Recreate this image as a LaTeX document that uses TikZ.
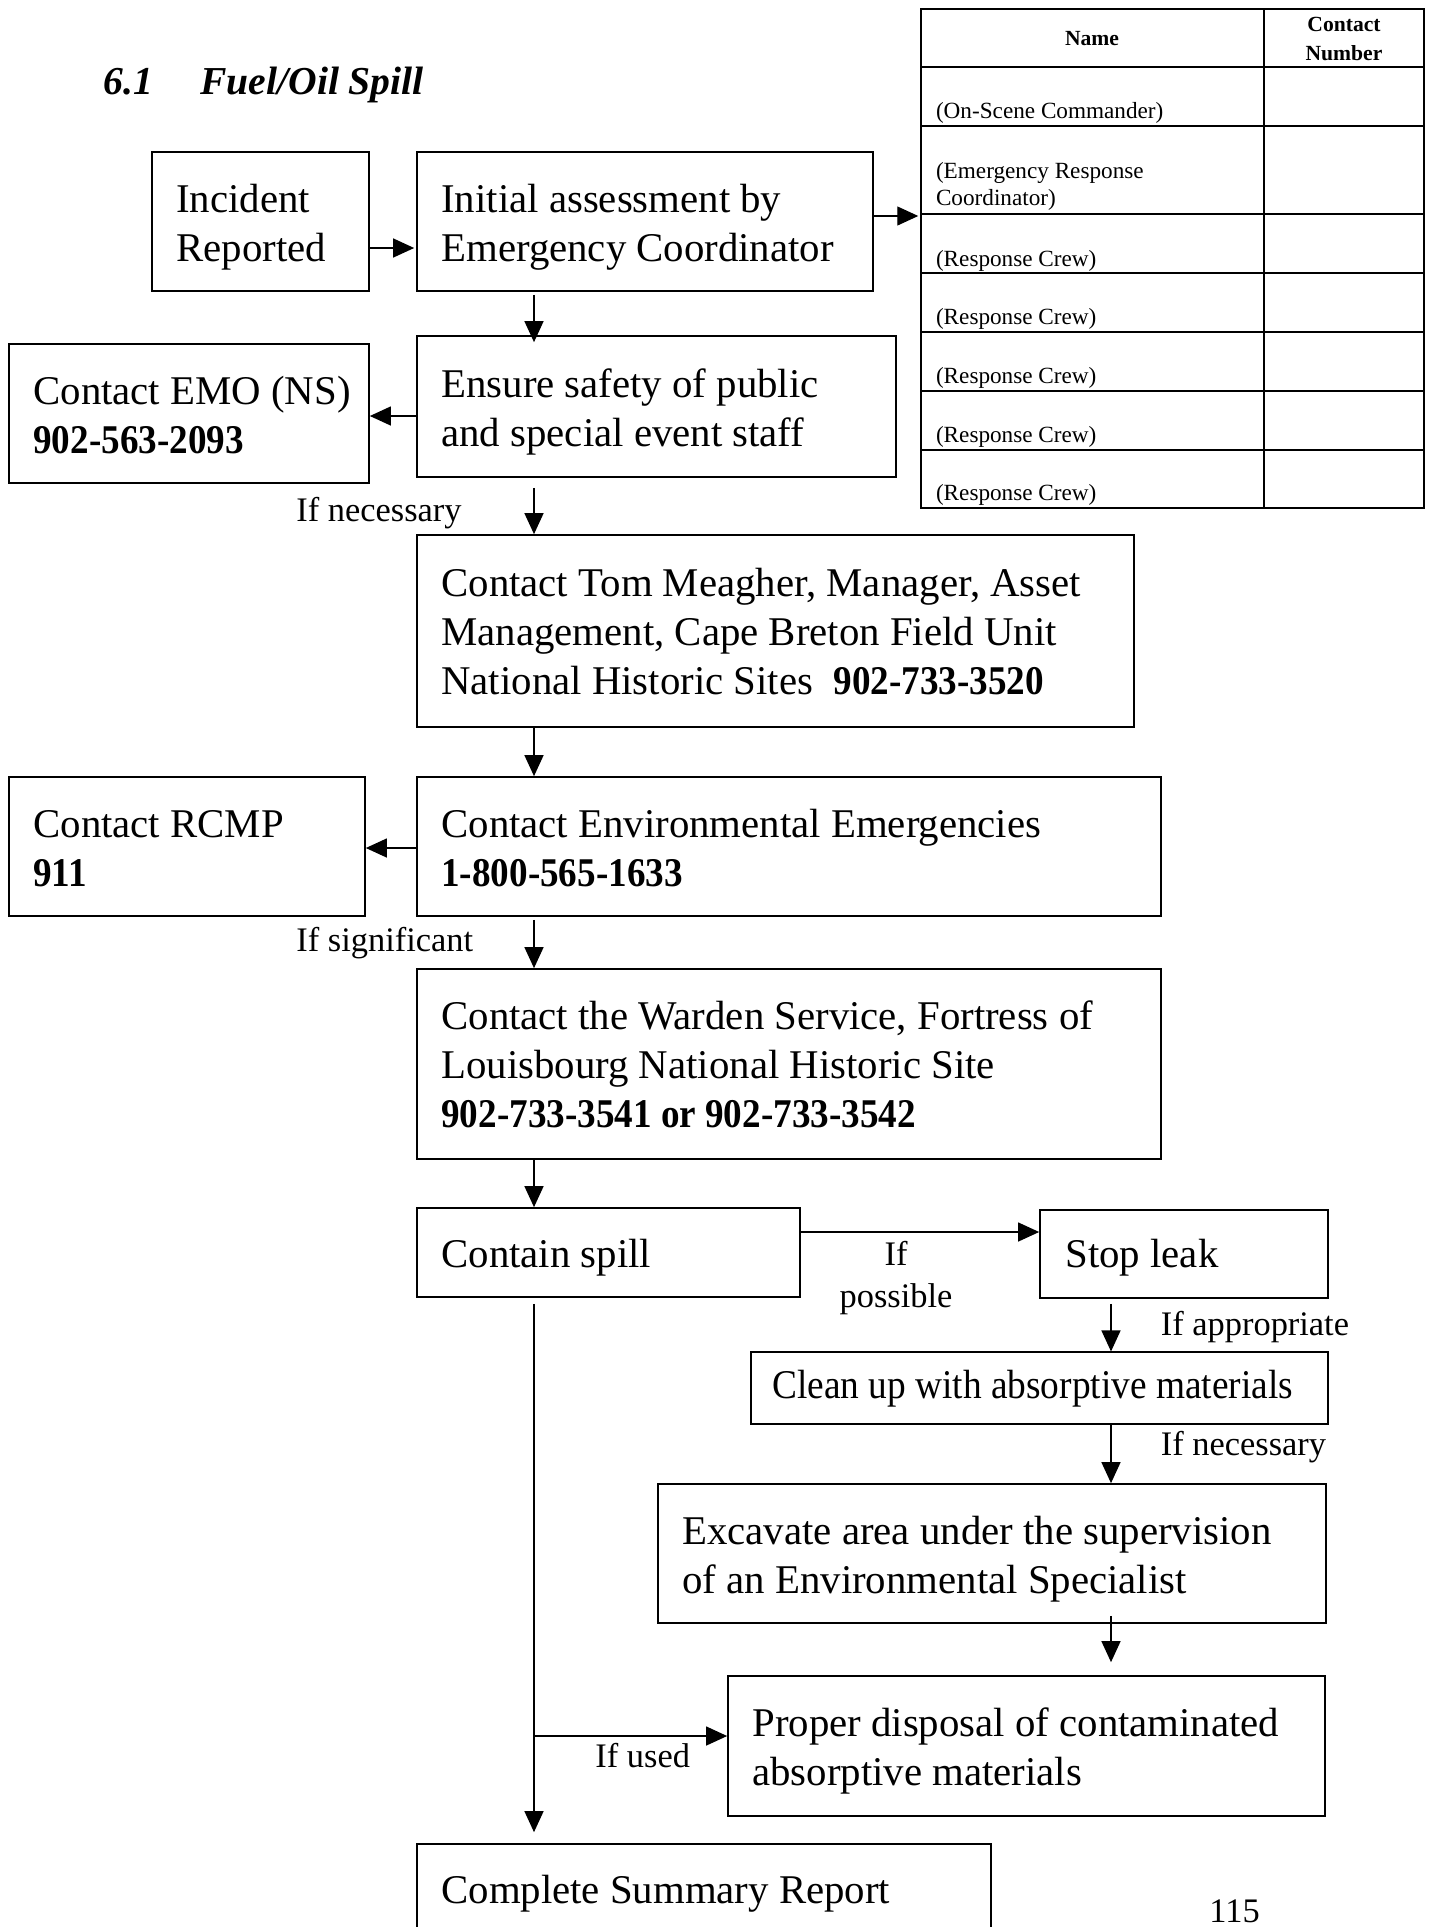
\documentclass[tikz,border=0pt]{standalone}
\usepackage{fontspec}
\usepackage{graphicx}
\setmainfont{Liberation Serif}
\usetikzlibrary{arrows.meta,fit}
\newcommand\ml[1]{\begin{tabular}[t]{@{}l@{}}#1\end{tabular}}
\newcommand\bnum[1]{\scalebox{0.91}[1]{\textbf{#1}}}
\tikzset{
  box/.style={draw, line width=0.85pt, inner sep=0pt, rectangle},
  thinbox/.style={draw, line width=0.55pt, inner sep=0pt, rectangle},
  arr/.style={line width=0.65pt, -{Triangle[length=10.5pt,width=9.5pt]}},
  txt/.style={anchor=base west, inner sep=0pt, font=\fontsize{20.4}{24.6}\selectfont},
  lbl/.style={anchor=base west, inner sep=0pt, font=\fontsize{17.2}{20}\selectfont},
  tab/.style={anchor=base west, inner sep=0pt, font=\fontsize{11.6}{13.6}\selectfont},
  tabh/.style={anchor=base, inner sep=0pt, font=\fontsize{10.8}{13}\selectfont\bfseries},
  ttl/.style={anchor=base west, inner sep=0pt, font=\fontsize{19.8}{23}\selectfont\bfseries\itshape},
}
\begin{document}
\begin{tikzpicture}[x=0.5pt, y=-0.5pt]
\path[use as bounding box, clip] (0,0) rectangle (1431,1927);
\fill[white] (0,0) rectangle (1431,1927);

% title
\node[ttl] (tnum) at (103,94) {6.1};
\node[ttl] (tname) at (200,94) {Fuel/Oil Spill};

% helper coordinates
\coordinate (colx) at (534,0);
\coordinate (colr) at (1111,0);
\coordinate (y248) at (0,248);
\coordinate (y216) at (0,216);
\coordinate (y416) at (0,416);
\coordinate (y848) at (0,848);
\coordinate (y1232) at (0,1232);
\coordinate (br) at (534,1736);

% table
\node[draw, line width=0.75pt, inner sep=0pt, fit={(921,9)(1424,508)}] (tbl) {};
\foreach \yy in {67,126,214,273,332,391,450}
  \draw[line width=0.75pt] (921,\yy) -- (1424,\yy);
\draw[line width=0.75pt] (1264,9) -- (1264,508);
\node[tabh] (hname) at (1092,46) {Name};
\node[tabh] (hcont) at (1344,32) {Contact};
\node[tabh] (hnum) at (1344,60) {Number};
\node[tab] (r1) at (935.6,118) {(On-Scene Commander)};
\node[tab] (r2) at (935.6,178) {\ml{(Emergency Response\\Coordinator)}};
\node[tab] (r3) at (935.6,266) {(Response Crew)};
\node[tab] (r4) at (935.6,324) {(Response Crew)};
\node[tab] (r5) at (935.6,383) {(Response Crew)};
\node[tab] (r6) at (935.6,442) {(Response Crew)};
\node[tab] (r7) at (935.6,500) {(Response Crew)};

% boxes
\node[box, fit={(152,152)(369,291)}] (inc) {};
\node[txt] (incT) at (176,212.7) {\ml{Incident\\Reported}};

\node[box, fit={(417,152)(873,291)}] (init) {};
\node[txt] (initT) at (441,212.7) {\ml{Initial assessment by\\Emergency Coordinator}};

\node[box, fit={(417,336)(896,477)}] (ens) {};
\node[txt] (ensT) at (441,397) {\ml{Ensure safety of public\\and special event staff}};

\node[box, fit={(9,344)(369,483)}] (emo) {};
\node[txt] (emoT) at (33,404.5) {\ml{Contact EMO (NS)\\\bnum{902-563-2093}}};

\node[box, fit={(417,535)(1134,727)}] (tom) {};
\node[txt] (tomT) at (441,596) {\ml{Contact Tom Meagher, Manager, Asset\\Management, Cape Breton Field Unit\\National Historic Sites\ \ \bnum{902-733-3520}}};

\node[box, fit={(9,777)(365,916)}] (rcmp) {};
\node[txt] (rcmpT) at (33,837) {\ml{Contact RCMP\\\bnum{911}}};

\node[box, fit={(417,777)(1161,916)}] (env) {};
\node[txt] (envT) at (441,837) {\ml{Contact Environmental Emergencies\\\bnum{1-800-565-1633}}};

\node[box, fit={(417,969)(1161,1159)}] (ward) {};
\node[txt] (wardT) at (441,1029) {\ml{Contact the Warden Service, Fortress of\\Louisbourg National Historic Site\\\bnum{902-733-3541 or 902-733-3542}}};

\node[box, fit={(417,1208)(800,1297)}] (cont) {};
\node[txt] (contT) at (441,1267.5) {Contain spill};

\node[box, fit={(1040,1210)(1328,1298)}] (stop) {};
\node[txt] (stopT) at (1065,1267.5) {Stop leak};

\node[thinbox, fit={(751,1352)(1328,1424)}] (clean) {};
\node[txt] (cleanT) at (772,1398) {\scalebox{0.915}[1]{Clean up with absorptive materials}};

\node[box, fit={(658,1484)(1326,1623)}] (exc) {};
\node[txt] (excT) at (682,1544) {\ml{Excavate area under the supervision\\of an Environmental Specialist}};

\node[box, fit={(728,1676)(1325,1816)}] (prop) {};
\node[txt] (propT) at (752,1736) {\ml{Proper disposal of contaminated\\absorptive materials}};

\node[box, fit={(417,1844)(991,1990)}] (comp) {};
\node[txt] (compT) at (441,1903) {Complete Summary Report};

% labels
\node[lbl] (l1) at (296,521) {If necessary};
\node[lbl] (l2) at (296,951.5) {If significant};
\node[lbl, anchor=base] (l3a) at (896,1265) {If};
\node[lbl, anchor=base] (l3b) at (896,1307) {possible};
\node[lbl] (l4) at (1160.5,1335) {If appropriate};
\node[lbl] (l5) at (1160.5,1455.6) {If necessary};
\node[lbl] (l6) at (595,1767) {If used};
\node[lbl] (pg) at (1209,1922) {115};

% connectors
\draw[arr, shorten >=1pt] (inc.east |- y248) -- (init.west |- y248);
\draw[arr, shorten >=1pt] (init.east |- y216) -- (tbl.west |- y216);
\draw[arr, shorten <=1.5pt, shorten >=-3.5pt] (init.south -| colx) -- (ens.north -| colx);
\draw[arr] (ens.west |- y416) -- (emo.east |- y416);
\draw[arr, shorten <=5pt] (ens.south -| colx) -- (tom.north -| colx);
\draw[arr] (tom.south -| colx) -- (env.north -| colx);
\draw[arr] (env.west |- y848) -- (rcmp.east |- y848);
\draw[arr, shorten <=1.5pt] (env.south -| colx) -- (ward.north -| colx);
\draw[arr] (ward.south -| colx) -- (cont.north -| colx);
\draw[arr] (cont.east |- y1232) -- (stop.west |- y1232);
\draw[arr, shorten <=2.5pt] (stop.south -| colr) -- (clean.north -| colr);
\draw[arr] (clean.south -| colr) -- (exc.north -| colr);
\draw[arr, shorten <=-4pt, shorten >=6.5pt] (exc.south -| colr) -- (prop.north -| colr);
\draw[arr, shorten <=3pt, shorten >=5.5pt] (cont.south -| colx) -- (comp.north -| colx);
\draw[arr] (br) -- (prop.west |- br);
\end{tikzpicture}
\end{document}
